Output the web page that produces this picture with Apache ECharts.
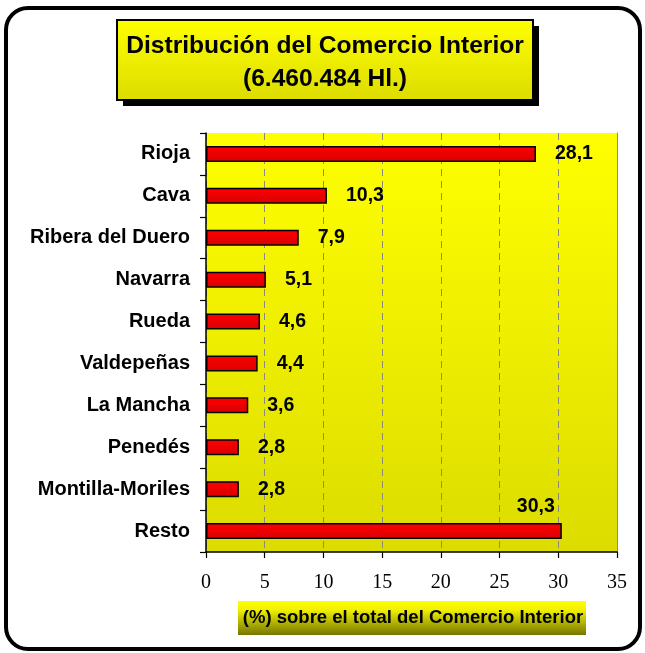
<!DOCTYPE html>
<html>
<head>
<meta charset="utf-8">
<script src="https://cdn.jsdelivr.net/npm/echarts@6/dist/echarts.min.js"></script>
<style>html,body{margin:0;padding:0;background:#fff}#c{width:645px;height:653px}</style>
</head>
<body>
<div id="c"></div>
<script>
const categories = ['Rioja','Cava','Ribera del Duero','Navarra','Rueda','Valdepeñas','La Mancha','Penedés','Montilla-Moriles','Resto'];
const values = [28.1, 10.3, 7.9, 5.1, 4.6, 4.4, 3.6, 2.8, 2.8, 30.3];
const axisMin = 0, axisMax = 35, axisStep = 5;
const titleLines = ['Distribución del Comercio Interior', '(6.460.484 Hl.)'];
const xAxisTitle = '(%) sobre el total del Comercio Interior';

const SANS = '"Liberation Sans", Arial, sans-serif';
const SERIF = '"Liberation Serif", "Times New Roman", serif';
const G = echarts.graphic;

const chart = echarts.init(document.getElementById('c'), null, {renderer: 'canvas'});

const barData = values.map((v, i) => {
  const d = {value: v};
  if (categories[i] === 'Resto') {
    d.label = {position: 'right', distance: 0, offset: [-45, -24]};
  }
  return d;
});

chart.setOption({
  animation: false,
  backgroundColor: '#fff',
  grid: {
    left: 206, right: 28, top: 133, bottom: 101,
    show: true, borderWidth: 0,
    backgroundColor: new G.LinearGradient(0, 0, 0, 1, [
      {offset: 0, color: '#FFFF00'}, {offset: 1, color: '#DCDC00'}
    ])
  },
  xAxis: {
    type: 'value', min: axisMin, max: axisMax, interval: axisStep,
    axisLine: {show: true, lineStyle: {color: '#000', width: 1.5}},
    axisTick: {show: true, length: 6, lineStyle: {color: '#000', width: 1.2}},
    axisLabel: {fontFamily: SERIF, fontSize: 20, color: '#000', margin: 21},
    splitLine: {show: true, lineStyle: {color: '#888', type: [7, 5], width: 1}}
  },
  yAxis: [{
    type: 'category', data: categories, inverse: true,
    axisLine: {show: true, lineStyle: {color: '#000', width: 1.5}},
    axisTick: {show: true, length: 6, lineStyle: {color: '#000', width: 1.2}},
    axisLabel: {fontFamily: SANS, fontSize: 20, fontWeight: 'bold', color: '#000', margin: 16}
  }, {
    type: 'category', data: categories, inverse: true, position: 'right',
    axisLine: {show: true, lineStyle: {color: '#888', width: 1}},
    axisTick: {show: false}, axisLabel: {show: false}
  }],
  series: [{
    type: 'bar', data: barData, barWidth: 16, yAxisIndex: 0,
    itemStyle: {
      color: new G.LinearGradient(0, 0, 0, 1, [
        {offset: 0, color: '#FF0000'}, {offset: 1, color: '#D80000'}
      ]),
      borderColor: '#000', borderWidth: 1.5
    },
    label: {
      show: true, position: 'right', distance: 19,
      fontFamily: SANS, fontSize: 19.5, fontWeight: 'bold', color: '#000',
      formatter: p => p.value.toFixed(1).replace('.', ',')
    }
  }],
  graphic: [
    {type: 'rect', shape: {x: 6, y: 8, width: 634, height: 641, r: 22},
     style: {fill: 'none', stroke: '#000', lineWidth: 4}, z: 10},
    {type: 'rect', shape: {x: 123, y: 26, width: 416, height: 80},
     style: {fill: '#000'}, z: 10},
    {type: 'rect', shape: {x: 117, y: 20, width: 416, height: 80},
     style: {fill: new G.LinearGradient(0, 0, 0, 1, [
       {offset: 0, color: '#FFFF00'}, {offset: 1, color: '#DCDC00'}]),
       stroke: '#000', lineWidth: 2}, z: 11},
    {type: 'text', x: 325, y: 46, z: 12,
     style: {text: titleLines[0], font: 'bold 24.6px ' + SANS, fill: '#000', align: 'center', verticalAlign: 'middle'}},
    {type: 'text', x: 325, y: 79, z: 12,
     style: {text: titleLines[1], font: 'bold 24.6px ' + SANS, fill: '#000', align: 'center', verticalAlign: 'middle'}},
    {type: 'rect', shape: {x: 238, y: 601, width: 348, height: 34},
     style: {fill: new G.LinearGradient(0, 0, 0, 1, [
       {offset: 0, color: '#FFFF00'}, {offset: 0.25, color: '#F2F200'}, {offset: 1, color: '#767600'}])}, z: 11},
    {type: 'text', x: 413, y: 618, z: 12,
     style: {text: xAxisTitle, font: 'bold 18.5px ' + SANS, fill: '#000', align: 'center', verticalAlign: 'middle'}}
  ]
});
</script>
</body>
</html>
